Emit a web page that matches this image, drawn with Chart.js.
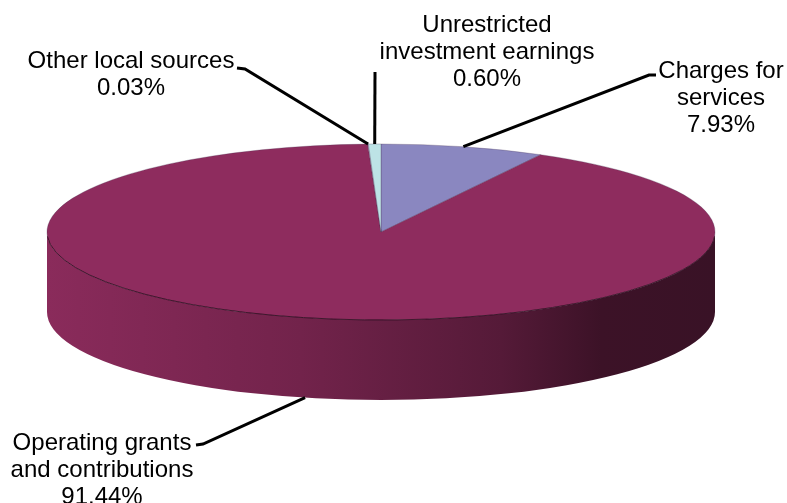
<!DOCTYPE html>
<html>
<head>
  <title>Revenue by Source</title>
  <script src="https://cdn.jsdelivr.net/npm/chart.js@4.4.1/dist/chart.umd.min.js"></script>
  <style>
    body {
      margin: 0;
      background-color: white;
    }
    .chart-container {
      position: relative;
      width: 787px;
      height: 503px;
    }
  </style>
</head>
<body>
  <div class="chart-container">
    <canvas id="pieChart"></canvas>
  </div>

  <script>
    // Data (clockwise from 12 o'clock)
    var categories = ['Charges for services', 'Operating grants and contributions', 'Other local sources', 'Unrestricted investment earnings'];
    var values = [7.93, 91.44, 0.03, 0.60];
    var colors = ['#8A87C0', '#8E2C5E', '#D6CCE4', '#BDE3E6'];
    // how each label is broken into lines
    var labelLines = [
      ['Charges for', 'services'],
      ['Operating grants', 'and contributions'],
      ['Other local sources'],
      ['Unrestricted', 'investment earnings']
    ];

    // Layout of the labels: text centre, first baseline, leader start and elbow
    var labelLayout = [
      { x: 721, y: 78, start: [656, 75], elbow: [649, 75] },
      { x: 102, y: 450, start: [196, 445], elbow: [203, 444] },
      { x: 131, y: 68, start: [237, 68], elbow: [245, 69] },
      { x: 487, y: 32, start: [375, 72], elbow: [375, 72] }
    ];

    var tilt = 88 / 334;   // vertical squash of the pie
    var depth = 80;        // thickness of the side wall
    var lineHeight = 27;

    // brightness across the side wall, left to right
    var sideShade = [[0, 0.97], [0.38, 0.8], [0.68, 0.6], [0.83, 0.42], [1, 0.4]];

    function shade(hex, f) {
      var n = parseInt(hex.slice(1), 16);
      var r = Math.round(((n >> 16) & 255) * f);
      var g = Math.round(((n >> 8) & 255) * f);
      var b = Math.round((n & 255) * f);
      return 'rgb(' + r + ',' + g + ',' + b + ')';
    }

    var pie3d = {
      id: 'pie3d',
      beforeDatasetsDraw: function(chart) {
        var ctx = chart.ctx;
        var arcs = chart.getDatasetMeta(0).data;
        var cx = arcs[0].x, cy = arcs[0].y, r = arcs[0].outerRadius;
        var ry = r * tilt;

        // side wall, only the front half (angles 0..PI) is visible
        arcs.forEach(function(arc, i) {
          var a0 = Math.max(arc.startAngle, 0);
          var a1 = Math.min(arc.endAngle, Math.PI);
          if (a1 <= a0) return;
          var grad = ctx.createLinearGradient(cx - r, 0, cx + r, 0);
          sideShade.forEach(function(s) {
            grad.addColorStop(s[0], shade(colors[i], s[1]));
          });
          ctx.beginPath();
          ctx.ellipse(cx, cy + depth, r, ry, 0, a0, a1, false);
          ctx.ellipse(cx, cy, r, ry, 0, a1, a0, true);
          ctx.closePath();
          ctx.fillStyle = grad;
          ctx.fill();
        });

        // squash the top face
        ctx.save();
        ctx.translate(cx, cy);
        ctx.scale(1, tilt);
        ctx.translate(-cx, -cy);
      },
      afterDatasetsDraw: function(chart) {
        var ctx = chart.ctx;
        ctx.restore();

        var arcs = chart.getDatasetMeta(0).data;
        var cx = arcs[0].x, cy = arcs[0].y, r = arcs[0].outerRadius;
        var ry = r * tilt;

        // thin dark rim between top face and side
        ctx.beginPath();
        ctx.ellipse(cx, cy, r, ry, 0, 0.05, Math.PI - 0.05, false);
        ctx.strokeStyle = 'rgba(45,10,28,0.8)';
        ctx.lineWidth = 1;
        ctx.stroke();

        // labels and leader lines
        ctx.font = '24px "Liberation Sans", Arial, sans-serif';
        ctx.textAlign = 'center';
        ctx.textBaseline = 'alphabetic';
        ctx.fillStyle = '#000';
        ctx.strokeStyle = '#000';
        ctx.lineWidth = 3;

        arcs.forEach(function(arc, i) {
          var lay = labelLayout[i];
          var mid = (arc.startAngle + arc.endAngle) / 2;
          var px = cx + r * Math.cos(mid);
          var py = cy + ry * Math.sin(mid);
          if (Math.sin(mid) > 0) py += depth;

          ctx.beginPath();
          ctx.moveTo(lay.start[0], lay.start[1]);
          ctx.lineTo(lay.elbow[0], lay.elbow[1]);
          ctx.lineTo(px, py);
          ctx.stroke();

          var lines = labelLines[i].concat([values[i].toFixed(2) + '%']);
          lines.forEach(function(t, k) {
            ctx.fillText(t, lay.x, lay.y + k * lineHeight);
          });
        });
      }
    };

    var ctx = document.getElementById('pieChart').getContext('2d');
    var pieChart = new Chart(ctx, {
      type: 'pie',
      data: {
        labels: categories,
        datasets: [{
          data: values,
          backgroundColor: colors,
          borderColor: 'rgba(70,50,80,0.45)',
          borderWidth: 1,
          clip: false
        }]
      },
      options: {
        responsive: true,
        maintainAspectRatio: false,
        radius: 334,
        events: [],
        animation: false,
        layout: {
          padding: { left: 0, right: 25, top: 0, bottom: 39 }
        },
        plugins: {
          legend: { display: false },
          tooltip: { enabled: false }
        }
      },
      plugins: [pie3d]
    });
  </script>
</body>
</html>
